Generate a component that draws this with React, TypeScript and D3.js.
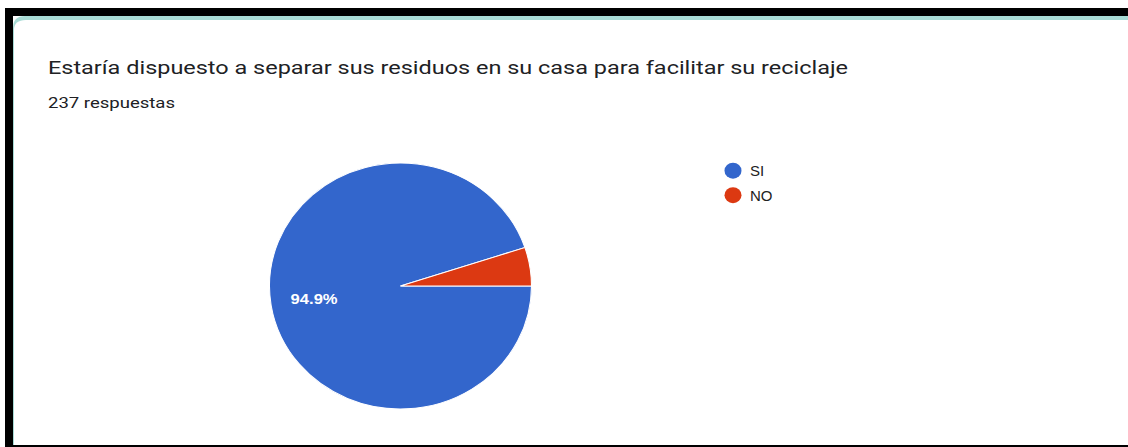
import { useEffect, useRef } from 'react'
import * as d3 from 'd3'

const title = 'Estaría dispuesto a separar sus residuos en su casa para facilitar su reciclaje'
const subtitle = '237 respuestas'
const categories = ['SI', 'NO']
const counts = [225, 12]
const colors = ['#3366cc', '#dc3912']

const W = 1128
const H = 447

export default function App() {
  const svgRef = useRef<SVGSVGElement | null>(null)

  useEffect(() => {
    const svg = d3.select(svgRef.current)
    svg.selectAll('*').remove()
    svg.attr('viewBox', `0 0 ${W} ${H}`)

    // ================= FRAME =================
    svg.append('rect').attr('width', W).attr('height', H).attr('fill', '#fff')
    svg.append('rect').attr('x', 5).attr('y', 8).attr('width', W - 5).attr('height', 8).attr('fill', '#000')
    svg.append('rect').attr('x', 5).attr('y', 8).attr('width', 8).attr('height', H - 8).attr('fill', '#000')
    svg.append('rect').attr('x', 5).attr('y', 445).attr('width', W - 5).attr('height', 2).attr('fill', '#000')

    // card with teal top edge and rounded corner
    svg.append('path')
      .attr('d', `M13,28 Q13,16 25,16 L${W},16 L${W},445 L13,445 Z`)
      .attr('fill', '#a8dbd5')
    svg.append('path')
      .attr('d', `M14,30 Q14,20 26,20 L${W},20 L${W},445 L14,445 Z`)
      .attr('fill', '#fff')

    // ================= TEXT =================
    svg.append('text')
      .attr('x', 48).attr('y', 74)
      .attr('font-family', 'Roboto, Arial, sans-serif')
      .attr('font-size', 19)
      .attr('fill', '#202124')
      .attr('textLength', 800)
      .attr('lengthAdjust', 'spacingAndGlyphs')
      .text(title)

    svg.append('text')
      .attr('x', 48).attr('y', 108)
      .attr('font-family', 'Roboto, Arial, sans-serif')
      .attr('font-size', 14)
      .attr('fill', '#202124')
      .attr('textLength', 127)
      .attr('lengthAdjust', 'spacingAndGlyphs')
      .text(subtitle)

    // ================= PIE =================
    const data = categories.map((c, i) => ({ label: c, value: counts[i], color: colors[i] }))
    const total = d3.sum(counts)
    const r = 123
    const sx = 131 / 123

    const pie = d3.pie<typeof data[number]>()
      .value((d) => d.value)
      .sort(null)
      .startAngle(Math.PI / 2)
      .endAngle(Math.PI / 2 + 2 * Math.PI)

    const arc = d3.arc<d3.PieArcDatum<typeof data[number]>>().innerRadius(0).outerRadius(r)
    const labelArc = d3.arc<d3.PieArcDatum<typeof data[number]>>().innerRadius(r * 0.668).outerRadius(r * 0.668)

    const pieG = svg.append('g').attr('transform', `translate(400.5,286) scale(${sx},1)`)
    const arcs = pie(data)
    pieG.selectAll('path.slice')
      .data(arcs)
      .join('path')
      .attr('class', 'slice')
      .attr('d', arc)
      .attr('fill', (d) => d.data.color)
      .attr('stroke', '#fff')
      .attr('stroke-width', 1)

    arcs
      .filter((d) => d.value / total > 0.06)
      .forEach((d) => {
        const [cx, cy] = labelArc.centroid(d)
        svg.append('text')
          .attr('x', 400.5 + cx * sx)
          .attr('y', 286 + cy)
          .attr('dy', '0.35em')
          .attr('text-anchor', 'middle')
          .attr('font-family', 'Arial, "Liberation Sans", sans-serif')
          .attr('font-size', 15)
          .attr('font-weight', 'bold')
          .attr('fill', '#fff')
          .attr('textLength', 47)
          .attr('lengthAdjust', 'spacingAndGlyphs')
          .text(`${d3.format('.1f')((d.value / total) * 100)}%`)
      })

    // ================= LEGEND =================
    const ly = d3.scalePoint<string>().domain(categories).range([170.7, 195.2])
    const legend = svg.append('g')
    const items = legend.selectAll('g').data(data).join('g')
      .attr('transform', (d) => `translate(733,${ly(d.label)})`)
    items.append('ellipse')
      .attr('rx', 8.5).attr('ry', 8)
      .attr('fill', (d) => d.color)
    items.append('text')
      .attr('x', 17).attr('dy', '0.36em')
      .attr('font-family', 'Arial, "Liberation Sans", sans-serif')
      .attr('font-size', 15)
      .attr('fill', '#222')
      .text((d) => d.label)
  }, [])

  return (
    <svg
      ref={svgRef}
      width={W}
      height={H}
      style={{ position: 'absolute', left: 0, top: 0, display: 'block' }}
    />
  )
}
